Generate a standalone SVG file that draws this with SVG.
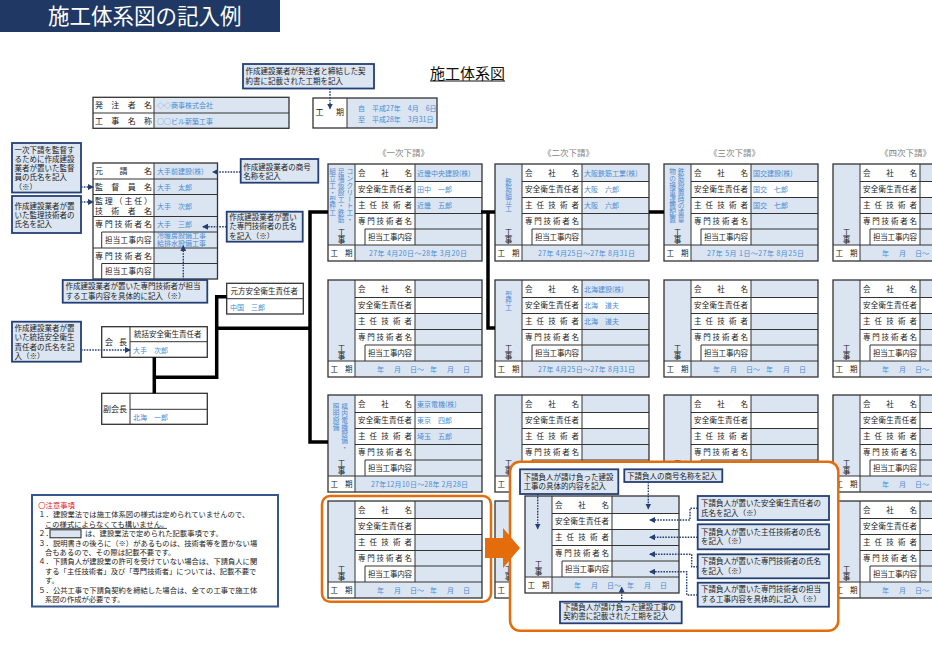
<svg xmlns="http://www.w3.org/2000/svg" width="932" height="657" viewBox="0 0 932 657">
<style>
text{font-family:"Noto Sans CJK JP","Noto Sans CJK SC",sans-serif;}
.lb{fill:#dbe5f1}
.wh{fill:#fff}
.ln{stroke:#333;stroke-width:1;fill:none}
.ol{fill:none;stroke:#333;stroke-width:1.3}
.lbl{font-size:7.5px;fill:#1a1a1a}
.lbl8{font-size:8px;fill:#1a1a1a}
.val{font-size:7px;fill:#4a8cd4}
.vtc{font-size:6.7px;fill:#4a8cd4;text-anchor:middle}
.cob{fill:#dce6f2;stroke:#243f73;stroke-width:1.8}
.cot{font-size:7.5px;fill:#1a1a1a}
.dot{fill:none;stroke:#243f73;stroke-width:1.4;stroke-dasharray:1.6 1.2;marker-end:url(#ah)}
.thick{fill:none;stroke:#000;stroke-width:3.5}
.tier{font-size:8.5px;fill:#7f7f7f}
.orange{fill:none;stroke:#e46c0a;stroke-width:2.5}
.nt{font-size:7.3px;fill:#1a1a1a}
</style>
<defs>
<marker id="ah" viewBox="0 0 6 6" refX="5" refY="3" markerWidth="6" markerHeight="6" markerUnits="userSpaceOnUse" orient="auto"><path d="M0,0 L6,3 L0,6 z" fill="#243f73"/></marker>
<g id="sb">
<rect width="27" height="81" class="lb"/>
<rect x="27" width="60" height="81" class="wh"/>
<rect x="87" width="67" height="17.5" class="lb"/>
<rect x="87" y="17.5" width="67" height="16" class="wh"/>
<rect x="87" y="33.5" width="67" height="47.5" class="lb"/>
<rect y="81" width="27" height="16" class="wh"/>
<rect x="27" y="81" width="127" height="16" class="lb"/>
<path class="ln" d="M27 0V97M87 0V81M27 17.5H154M27 33.5H154M27 49.5H154M37 65H154M37 65V81M0 81H154"/>
<rect width="154" height="97" class="ol"/>
<text class="lbl" x="30 53.2 76.5" y="11.8">会社名</text>
<text class="lbl" x="30 37.75 45.5 53.25 61 68.75 76.5" y="28.2">安全衛生責任者</text>
<text class="lbl" x="30 41.6 53.25 64.9 76.5" y="44.2">主任技術者</text>
<text class="lbl" x="30 39.3 48.6 57.9 67.2 76.5" y="60">専門技術者名</text>
<text class="lbl" x="40 47.3 54.6 61.9 69.2 76.5" y="76">担当工事内容</text>
<text class="lbl" x="2.5" y="91.8">工</text>
<text class="lbl" x="17" y="91.8">期</text>
<text class="lbl" x="13.5" y="70.5" text-anchor="middle">工</text>
<text class="lbl" x="13.5" y="78.8" text-anchor="middle">事</text>
</g>
<text id="blankterm" class="val" x="49 66 82 89 102 119 135" y="91.8">年月日～年月日</text>
</defs>

<g id="banner">
<rect x="0" y="0" width="280" height="32" fill="#1f3864"/>
<text x="48" y="24" font-size="21.5" fill="#fff">施工体系図の記入例</text>
</g>

<g id="title">
<text x="430" y="78.5" font-size="15" fill="#111">施工体系図</text>
<line x1="430" y1="81" x2="505" y2="81" stroke="#111" stroke-width="1"/>
</g>

<g id="owner-table">
<rect x="93" y="97.3" width="61" height="31" class="wh"/>
<rect x="154" y="97.3" width="135" height="31" class="lb"/>
<path class="ln" d="M154 97.3V128.3M93 113H289"/>
<rect x="93" y="97.3" width="196" height="31" class="ol"/>
<text class="lbl8" x="95 111.3 127.7 144" y="108.3">発注者名</text>
<text class="lbl8" x="95 111.3 127.7 144" y="123.8">工事名称</text>
<text class="val" x="157" y="108.3">◇◇商事株式会社</text>
<text class="val" x="157" y="123.8">○○ビル新築工事</text>
</g>

<g id="period-table">
<rect x="313" y="98" width="34" height="30" class="wh"/>
<rect x="347" y="98" width="90" height="30" class="lb"/>
<path class="ln" d="M347 98V128"/>
<rect x="313" y="98" width="124" height="30" class="ol"/>
<text class="lbl8" x="315.5 336" y="115">工期</text>
<text class="val" font-size="6.5" x="358" y="110.5">自　平成27年　4月　6日</text>
<text class="val" font-size="6.5" x="358" y="121.5">至　平成28年　3月31日</text>
</g>

<g id="note-period">
<rect x="243" y="64" width="131" height="24.5" class="cob"/>
<text class="cot" x="245.5" y="74.4">作成建設業者が発注者と締結した契</text>
<text class="cot" x="245.5" y="83.7">約書に記載された工期を記入</text>
</g>

<g id="prime-table">
<rect x="93" y="163" width="61" height="116" class="wh"/>
<rect x="154" y="163" width="63.5" height="116" class="lb"/>
<path class="ln" d="M154 163V279M93 179H217.5M93 194.5H217.5M93 216.5H217.5M101.7 232H217.5M101.7 232V248M93 248H217.5M101.7 263.5H217.5M101.7 263.5V279"/>
<rect x="93" y="163" width="124.5" height="116" class="ol"/>
<text class="lbl8" x="95 119.5 144" y="174.3">元請名</text>
<text class="lbl8" x="95 111.3 127.7 144" y="189.8">監督員名</text>
<text class="lbl8" x="95 104.8 114.6 124.4 134.2 144" y="204.3">監理（主任）</text>
<text class="lbl8" x="95 111.3 127.7 144" y="213.6">技術者名</text>
<text class="lbl8" x="95 104.8 114.6 124.4 134.2 144" y="227.3">専門技術者名</text>
<text class="lbl" x="105 112.8 120.6 128.4 136.2 144" y="242.8">担当工事内容</text>
<text class="lbl8" x="95 104.8 114.6 124.4 134.2 144" y="258.7">専門技術者名</text>
<text class="lbl" x="105 112.8 120.6 128.4 136.2 144" y="274.3">担当工事内容</text>
<text class="val" x="157" y="174.3">大手前建設(株)</text>
<text class="val" x="157" y="189.8">大手　太郎</text>
<text class="val" x="157" y="208.5">大手　次郎</text>
<text class="val" x="157" y="227.3">大手　三郎</text>
<text class="val" font-size="5.4" x="157" y="237.6">冷暖房設備工事</text>
<text class="val" font-size="5.4" x="157" y="245.8">給排水設備工事</text>
</g>

<g id="note-supervisor">
<rect x="12" y="143" width="69" height="49.5" class="cob"/>
<text class="cot" x="14.5" y="152.7">一次下請を監督す</text>
<text class="cot" x="14.5" y="162">るために作成建設</text>
<text class="cot" x="14.5" y="171.2">業者が置いた監督</text>
<text class="cot" x="14.5" y="180.4">員の氏名を記入</text>
<text class="cot" x="14.5" y="189.6">（※）</text>
</g>
<g id="note-kanri">
<rect x="12" y="196" width="69" height="37" class="cob"/>
<text class="cot" x="14.5" y="208.7">作成建設業者が置</text>
<text class="cot" x="14.5" y="217.9">いた監理技術者の</text>
<text class="cot" x="14.5" y="227.1">氏名を記入</text>
</g>
<g id="note-shogo">
<rect x="240.7" y="159" width="77.6" height="23.7" class="cob"/>
<text class="cot" x="243.3" y="170">作成建設業者の商号</text>
<text class="cot" x="243.3" y="179.3">名称を記入</text>
</g>
<g id="note-senmon">
<rect x="226.7" y="211.7" width="76" height="30" class="cob"/>
<text class="cot" x="229.3" y="219.6">作成建設業者が置い</text>
<text class="cot" x="229.3" y="229.2">た専門技術者の氏名</text>
<text class="cot" x="229.3" y="238.7">を記入（※）</text>
</g>
<g id="note-tanto">
<rect x="62.7" y="280" width="144.6" height="22.7" class="cob"/>
<text class="cot" x="65.5" y="289.4">作成建設業者が置いた専門技術者が担当</text>
<text class="cot" x="65.5" y="298.7">する工事内容を具体的に記入（※）</text>
</g>
<g id="note-tokatsu">
<rect x="12" y="321.7" width="69" height="40" class="cob"/>
<text class="cot" x="14.5" y="331">作成建設業者が置</text>
<text class="cot" x="14.5" y="340.3">いた統括安全衛生</text>
<text class="cot" x="14.5" y="349.6">責任者の氏名を記</text>
<text class="cot" x="14.5" y="358.9">入（※）</text>
</g>

<g id="motokata">
<rect x="226.7" y="283.3" width="76.6" height="30.7" class="wh"/>
<path class="ln" d="M226.7 298.7H303.3"/>
<rect x="226.7" y="283.3" width="76.6" height="30.7" class="ol"/>
<text class="lbl" x="230.5" y="294">元方安全衛生責任者</text>
<text class="val" x="230" y="309.7">中国　三郎</text>
</g>
<g id="kaicho">
<rect x="101.7" y="326.7" width="105.6" height="30.6" class="wh"/>
<path class="ln" d="M130 326.7V357.3M130 341.7H207.3"/>
<rect x="101.7" y="326.7" width="105.6" height="30.6" class="ol"/>
<text class="lbl8" x="105 119" y="345.3">会長</text>
<text class="lbl" x="134" y="337.3">統括安全衛生責任者</text>
<text class="val" x="133" y="352.6">大手　次郎</text>
</g>
<g id="fukukaicho">
<rect x="101.7" y="393.3" width="105.6" height="31" class="wh"/>
<path class="ln" d="M130 393.3V424.3M130 409.3H207.3"/>
<rect x="101.7" y="393.3" width="105.6" height="31" class="ol"/>
<text class="lbl8" x="103" y="412">副会長</text>
<text class="val" x="133" y="420">北海　一郎</text>
</g>

<g id="tier-titles">
<text class="tier" x="378" y="155.5">《一次下請》</text>
<text class="tier" x="543" y="155.5">《二次下請》</text>
<text class="tier" x="709" y="155.5">《三次下請》</text>
<text class="tier" x="880" y="155.5">《四次下請》</text>
</g>

<g id="sub-1-1" transform="translate(328,164)">
<use href="#sb"/>
<text class="vtc" x="21.8 21.8 21.8 21.8 22.6 21.8 21.8 21.8" y="10.4 17.2 24 30.8 31.7 44.4 51.2 58" rotate="0 0 0 0 90 0 0 0">コンクリート工・</text>
<text class="vtc" x="13.2 13.2 13.2 13.2 13.2 13.2 13.2 13.2" y="10.4 17.2 24 30.8 37.6 44.4 51.2 58">足場仮設工・鉄筋</text>
<text class="vtc" x="4.6 4.6 4.6 4.6 4.6 4.6 4.6" y="10.4 17.2 24 30.8 37.6 44.4 51.2">組立工・型枠工</text>
<text class="val" x="89" y="11.8">近畿中央建設(株)</text>
<text class="val" x="89" y="28.2">田中　一郎</text>
<text class="val" x="89" y="44.2">近畿　五郎</text>
<text class="val" x="41" y="91.8" textLength="98" lengthAdjust="spacing">27年 4月20日～28年 3月20日</text>
</g>
<g id="sub-1-2" transform="translate(495,164)">
<use href="#sb"/>
<text class="vtc" x="13.5 13.5 13.5 13.5 13.5" y="19.9 26.7 33.5 40.3 47.1">鉄筋組立工</text>
<text class="val" x="89" y="11.8">大阪鉄筋工業(株)</text>
<text class="val" x="89" y="28.2">大阪　六郎</text>
<text class="val" x="89" y="44.2">大阪　六郎</text>
<text class="val" x="43" y="91.8" textLength="97" lengthAdjust="spacing">27年 4月25日～27年 8月31日</text>
</g>
<g id="sub-1-3" transform="translate(664,164)">
<use href="#sb"/>
<text class="vtc" x="17 17 17 17 17 17 17 17" y="10.4 17.2 24 30.8 37.6 44.4 51.2 58">鉄筋設置時の重量</text>
<text class="vtc" x="8.7 8.7 8.7 8.7 8.7 8.7 8.7 8.7" y="10.4 17.2 24 30.8 37.6 44.4 51.2 58">物の揚重運搬配置</text>
<text class="val" x="89" y="11.8">国交建設(株)</text>
<text class="val" x="89" y="28.2">国交　七郎</text>
<text class="val" x="89" y="44.2">国交　七郎</text>
<text class="val" x="43" y="91.8" textLength="97" lengthAdjust="spacing">27年 5月 1日～27年 8月25日</text>
</g>
<g id="sub-1-4" transform="translate(833,164)">
<use href="#sb"/>
<use href="#blankterm"/>
</g>

<g id="sub-2-1" transform="translate(328,280)">
<use href="#sb"/>
<use href="#blankterm"/>
</g>
<g id="sub-2-2" transform="translate(495,280)">
<use href="#sb"/>
<text class="vtc" x="13.5 13.5 13.5" y="16.6 23.4 30.2">型枠工</text>
<text class="val" x="89" y="11.8">北海建設(株)</text>
<text class="val" x="89" y="28.2">北海　道夫</text>
<text class="val" x="89" y="44.2">北海　道夫</text>
<text class="val" x="43" y="91.8" textLength="97" lengthAdjust="spacing">27年 4月25日～27年 8月31日</text>
</g>
<g id="sub-2-3" transform="translate(664,280)">
<use href="#sb"/>
<use href="#blankterm"/>
</g>
<g id="sub-2-4" transform="translate(833,280)">
<use href="#sb"/>
<use href="#blankterm"/>
</g>

<g id="sub-3-1" transform="translate(328,395)">
<use href="#sb"/>
<text class="vtc" x="16.6 16.6 16.6 16.6 16.6 16.6 16.6" y="14.2 21 27.8 34.6 41.4 48.2 55">構内電機設備・</text>
<text class="vtc" x="8 8 8 8" y="14.2 21 27.8 34.6">照明設備</text>
<text class="val" x="89" y="11.8">東京電機(株)</text>
<text class="val" x="89" y="28.2">東京　四郎</text>
<text class="val" x="89" y="44.2">埼玉　五郎</text>
<text class="val" x="43" y="91.8" textLength="97" lengthAdjust="spacing">27年12月10日～28年 2月28日</text>
</g>
<g id="sub-3-2" transform="translate(495,395)">
<use href="#sb"/>
<use href="#blankterm"/>
</g>
<g id="sub-3-3" transform="translate(664,395)">
<use href="#sb"/>
<use href="#blankterm"/>
</g>
<g id="sub-3-4" transform="translate(833,395)">
<use href="#sb"/>
<use href="#blankterm"/>
</g>

<g id="sub-4-1" transform="translate(328,501)">
<use href="#sb"/>
<use href="#blankterm"/>
</g>
<g id="sub-4-2" transform="translate(495,501)">
<use href="#sb"/>
<use href="#blankterm"/>
</g>
<g id="sub-4-4" transform="translate(833,501)">
<use href="#sb"/>
<use href="#blankterm"/>
</g>

<g id="highlight-frame">
<rect x="322" y="496" width="169" height="105.7" rx="8" class="orange"/>
</g>

<g id="detail-panel">
<rect x="510" y="461.7" width="328.3" height="169" rx="10" fill="#fff" stroke="#e46c0a" stroke-width="2.5"/>
</g>
<g id="detail-table" transform="translate(525,496)">
<use href="#sb"/>
<use href="#blankterm"/>
</g>
<g id="note-d-content">
<rect x="520" y="469.3" width="98.3" height="24.7" class="cob"/>
<text class="cot" x="523.5" y="479.5">下請負人が請け負った建設</text>
<text class="cot" x="523.5" y="489.3">工事の具体的内容を記入</text>
</g>
<g id="note-d-name">
<rect x="624.3" y="469.3" width="98" height="12.7" class="cob"/>
<text class="cot" x="627" y="478.6">下請負人の商号名称を記入</text>
</g>
<g id="note-d-safety">
<rect x="697.7" y="496" width="131.3" height="24" class="cob"/>
<text class="cot" x="701" y="506">下請負人が置いた安全衛生責任者の</text>
<text class="cot" x="701" y="515.5">氏名を記入（※）</text>
</g>
<g id="note-d-chief">
<rect x="697.7" y="524.3" width="131.3" height="25" class="cob"/>
<text class="cot" x="701" y="534.5">下請負人が置いた主任技術者の氏名</text>
<text class="cot" x="701" y="544.2">を記入（※）</text>
</g>
<g id="note-d-expert">
<rect x="697.7" y="554.3" width="131.3" height="24" class="cob"/>
<text class="cot" x="701" y="563.8">下請負人が置いた専門技術者の氏名</text>
<text class="cot" x="701" y="573.6">を記入（※）</text>
</g>
<g id="note-d-work">
<rect x="697.7" y="582.7" width="131.3" height="24" class="cob"/>
<text class="cot" x="701" y="592">下請負人が置いた専門技術者の担当</text>
<text class="cot" x="701" y="601.8">する工事内容を具体的に記入（※）</text>
</g>
<g id="note-d-period">
<rect x="560" y="601.7" width="121.7" height="21.6" class="cob"/>
<text class="cot" x="563.3" y="610">下請負人が請け負った建設工事の</text>
<text class="cot" x="563.3" y="619.4">契約書に記載された工期を記入</text>
</g>

<g id="connectors">
<g id="hierarchy-lines">
<path class="thick" d="M154.3 357.3V393.3M154.3 377.3H216.7V296.7H226.7M216.7 328.3H310M328 212H310V442H328M481 212H495M488 212V328H495M649 212H664"/>
</g>
<g id="annotation-arrows">
<path class="dot" d="M81 187H93"/>
<path class="dot" d="M81 202H93"/>
<path class="dot" d="M240.5 172H213"/>
<path class="dot" d="M226.5 226.7H203"/>
<path class="dot" d="M183.3 280V246"/>
<path class="dot" d="M81 350H130"/>
<path class="dot" d="M330 88.5V108.5"/>
<path class="dot" d="M537.7 494V528.5"/>
<path class="dot" d="M648.3 482V508.5"/>
<path class="dot" d="M697.7 508.3H690V520H650"/>
<path class="dot" d="M697.7 537.3H650"/>
<path class="dot" d="M697.7 566.7H691.7V554.3H650"/>
<path class="dot" d="M697.7 595H686.7V571.7H650"/>
<path class="dot" d="M621.7 601.7V587.5"/>
</g>
<g id="zoom-arrow">
<polygon points="485,538 503,538 503,528 520,548 503,568 503,558 485,558" fill="#e46c0a"/>
</g>
</g>

<g id="notes">
<rect x="32" y="495" width="246" height="111.5" fill="#fff" stroke="#34568b" stroke-width="2"/>
<text class="nt" x="38.3" y="507.6" style="fill:#e0201b">〇注意事項</text>
<text class="nt" x="38.3" y="517.2">１．建設業法では施工体系図の様式は定められていませんので、</text>
<text class="nt" x="45" y="526.7">この様式によらなくても構いません。</text>
<line x1="45" y1="528.4" x2="167" y2="528.4" stroke="#1a1a1a" stroke-width="0.8"/>
<text class="nt" x="38.3" y="536.2">２．</text>
<rect x="50" y="529.8" width="31" height="8" class="lb" stroke="#222" stroke-width="1"/>
<text class="nt" x="85" y="536.2">は、建設業法で定められた記載事項です。</text>
<text class="nt" x="38.3" y="545.6">３．説明書きの後ろに（※）があるものは、技術者等を置かない場</text>
<text class="nt" x="45" y="555">合もあるので、その際は記載不要です。</text>
<text class="nt" x="38.3" y="564.4">４．下請負人が建設業の許可を受けていない場合は、下請負人に関</text>
<text class="nt" x="45" y="573.8">する「主任技術者」及び「専門技術者」については、記載不要で</text>
<text class="nt" x="45" y="583.2">す。</text>
<text class="nt" x="38.3" y="592.6">５．公共工事で下請負契約を締結した場合は、全ての工事で施工体</text>
<text class="nt" x="45" y="602">系図の作成が必要です。</text>
</g>
</svg>
